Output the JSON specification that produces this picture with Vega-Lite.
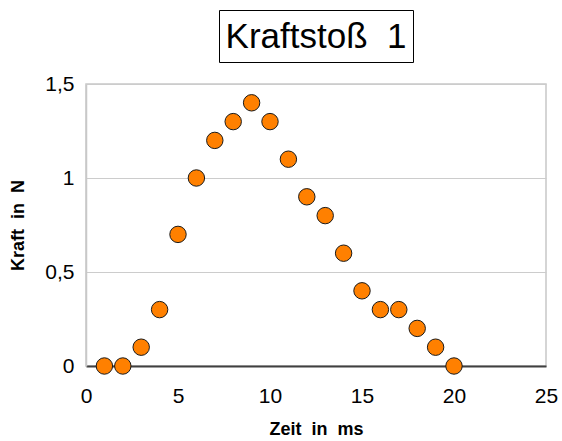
{
  "$schema": "https://vega.github.io/schema/vega-lite/v6.json",
  "padding": {"left": 9, "top": 9, "right": 0, "bottom": 0},
  "background": "white",
  "config": {
    "font": "Liberation Sans",
    "view": {"stroke": null}
  },
  "bounds": "flush",
  "center": true,
  "spacing": 22,
  "vconcat": [
    {
      "width": 194,
      "height": 52,
      "data": {"values": [{"label": "Kraftstoß\u00a0 1"}]},
      "view": {"stroke": "#000000", "strokeWidth": 1, "fill": "white"},
      "mark": {"type": "text", "font": "Liberation Sans", "fontSize": 35, "color": "#000000", "align": "center", "baseline": "middle", "dy": 1},
      "encoding": {"text": {"field": "label", "type": "nominal"}}
    },
    {
      "width": 460,
      "height": 282,
      "data": {
        "values": [
          {"zeit": 1, "kraft": 0},
          {"zeit": 2, "kraft": 0},
          {"zeit": 3, "kraft": 0.1},
          {"zeit": 4, "kraft": 0.3},
          {"zeit": 5, "kraft": 0.7},
          {"zeit": 6, "kraft": 1.0},
          {"zeit": 7, "kraft": 1.2},
          {"zeit": 8, "kraft": 1.3},
          {"zeit": 9, "kraft": 1.4},
          {"zeit": 10, "kraft": 1.3},
          {"zeit": 11, "kraft": 1.1},
          {"zeit": 12, "kraft": 0.9},
          {"zeit": 13, "kraft": 0.8},
          {"zeit": 14, "kraft": 0.6},
          {"zeit": 15, "kraft": 0.4},
          {"zeit": 16, "kraft": 0.3},
          {"zeit": 17, "kraft": 0.3},
          {"zeit": 18, "kraft": 0.2},
          {"zeit": 19, "kraft": 0.1},
          {"zeit": 20, "kraft": 0}
        ]
      },
      "view": {"stroke": "#c8c8c8", "strokeWidth": 1.5},
      "mark": {"type": "point", "shape": "circle", "filled": true, "fill": "#FF8000", "stroke": "#1a1a1a", "strokeWidth": 1, "size": 270, "opacity": 1},
      "encoding": {
        "x": {
          "field": "zeit", "type": "quantitative",
          "scale": {"domain": [0, 25], "nice": false, "zero": false},
          "axis": {
            "values": [0, 5, 10, 15, 20, 25],
            "title": "Zeit\u00a0 in\u00a0 ms",
            "titleFont": "Liberation Sans", "titleFontSize": 18, "titleFontWeight": "bold", "titleColor": "#000000",
            "titlePadding": 14,
            "labelFont": "Liberation Sans", "labelFontSize": 21, "labelColor": "#000000",
            "labelPadding": 19,
            "ticks": false,
            "grid": false,
            "domainColor": "#404040", "domainWidth": 2,
            "labelFlush": false
          }
        },
        "y": {
          "field": "kraft", "type": "quantitative",
          "scale": {"domain": [0, 1.5], "nice": false},
          "axis": {
            "values": [0, 0.5, 1, 1.5],
            "format": ",.1~f",
            "labelExpr": "replace(datum.label, '.', ',')",
            "title": "Kraft\u00a0 in\u00a0 N",
            "titleFont": "Liberation Sans", "titleFontSize": 18, "titleFontWeight": "bold", "titleColor": "#000000",
            "titlePadding": 17,
            "labelFont": "Liberation Sans", "labelFontSize": 21, "labelColor": "#000000",
            "labelPadding": 12,
            "ticks": false,
            "grid": true, "gridColor": "#cccccc", "gridWidth": 1,
            "domainColor": "#c8c8c8", "domainWidth": 1.5,
            "labelFlush": false
          }
        }
      }
    }
  ]
}
